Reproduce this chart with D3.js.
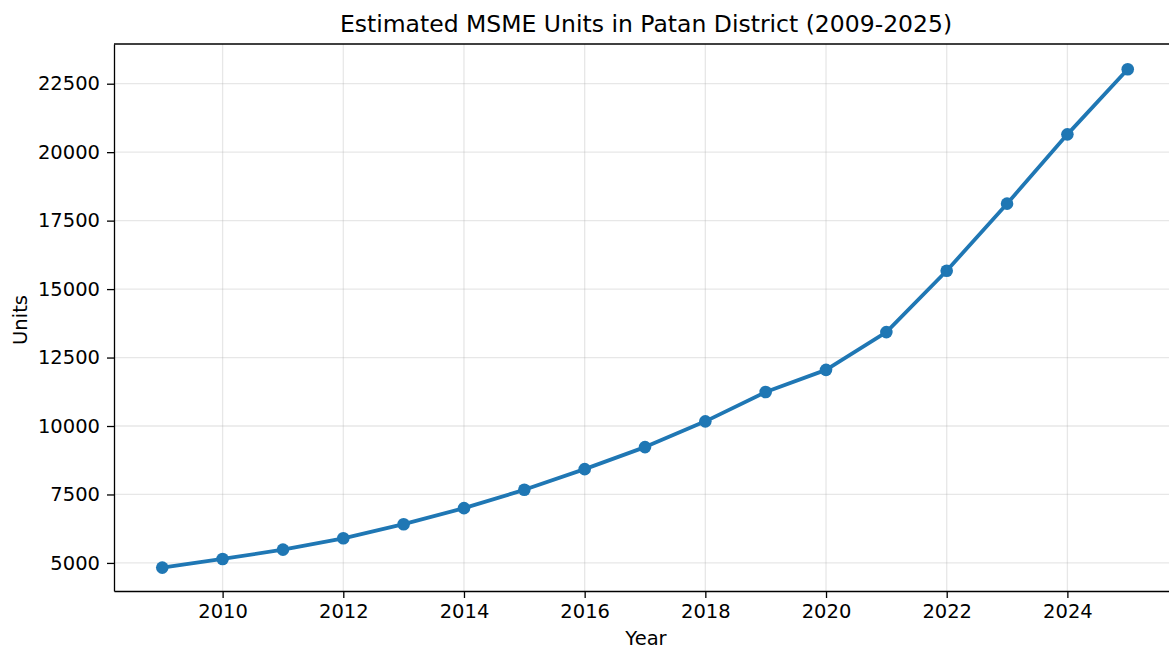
<!DOCTYPE html>
<html><head><meta charset="utf-8">
<script src="https://cdn.jsdelivr.net/npm/d3@7"></script>
<style>body{margin:0;background:#fff}svg{display:block;font-family:"DejaVu Sans",sans-serif}</style>
</head><body><svg id="c" width="1169" height="650"></svg>
<script>
const years = [2009,2010,2011,2012,2013,2014,2015,2016,2017,2018,2019,2020,2021,2022,2023,2024,2025];
const units = [4830,5145,5485,5900,6415,7000,7670,8425,9230,10170,11240,12050,13430,15670,18120,20650,23030];
const xTicks = [2010,2012,2014,2016,2018,2020,2022,2024];
const yTicks = [5000,7500,10000,12500,15000,17500,20000,22500];

const svg = d3.select("#c");
const L=114, T=44, B=591, R=1176;
const x = d3.scaleLinear().domain([2008.2,2025.8]).range([L,R]);
const y = d3.scaleLinear().domain([3975,23950]).range([B,T]);

const g = svg.append("g");
g.selectAll(".gx").data(xTicks).join("line").attr("x1",d=>x(d)).attr("x2",d=>x(d)).attr("y1",T).attr("y2",B)
 .attr("stroke","#b0b0b0").attr("stroke-opacity",0.3).attr("stroke-width",1.3);
g.selectAll(".gy").data(yTicks).join("line").attr("y1",d=>y(d)).attr("y2",d=>y(d)).attr("x1",L).attr("x2",R)
 .attr("stroke","#b0b0b0").attr("stroke-opacity",0.3).attr("stroke-width",1.3);

g.append("path").datum(years.map((d,i)=>[d,units[i]]))
 .attr("fill","none").attr("stroke","#1f77b4").attr("stroke-width",3.8).attr("stroke-linejoin","round").attr("stroke-linecap","round")
 .attr("d", d3.line().x(d=>x(d[0])).y(d=>y(d[1])));
g.selectAll(".pt").data(years).join("circle").attr("cx",d=>x(d)).attr("cy",(d,i)=>y(units[i])).attr("r",6.3).attr("fill","#1f77b4");

const xa = svg.append("g").attr("transform",`translate(0,${B})`)
 .call(d3.axisBottom(x).tickValues(xTicks).tickFormat(d3.format("d")).tickSize(7).tickSizeOuter(0).tickPadding(6));
const ya = svg.append("g").attr("transform",`translate(${L},0)`)
 .call(d3.axisLeft(y).tickValues(yTicks).tickFormat(d3.format("d")).tickSize(7).tickSizeOuter(0).tickPadding(7));
[xa,ya].forEach(a=>{
  a.selectAll("text").attr("font-size",19.5).attr("font-family","DejaVu Sans").attr("fill","#000");
  a.selectAll("line").attr("stroke","#000").attr("stroke-width",1.3);
  a.select(".domain").attr("stroke","#000").attr("stroke-width",1.3);
});
svg.append("line").attr("x1",L).attr("x2",R).attr("y1",T).attr("y2",T).attr("stroke","#000").attr("stroke-width",1.3);
svg.append("line").attr("x1",R).attr("x2",R).attr("y1",T).attr("y2",B).attr("stroke","#000").attr("stroke-width",1.3);

svg.append("text").attr("x",646).attr("y",32).attr("text-anchor","middle").attr("font-size",23.5).text("Estimated MSME Units in Patan District (2009-2025)");
svg.append("text").attr("x",646).attr("y",645).attr("text-anchor","middle").attr("font-size",19.5).text("Year");
svg.append("text").attr("transform","translate(27,320) rotate(-90)").attr("text-anchor","middle").attr("font-size",19.5).text("Units");
</script></body></html>
